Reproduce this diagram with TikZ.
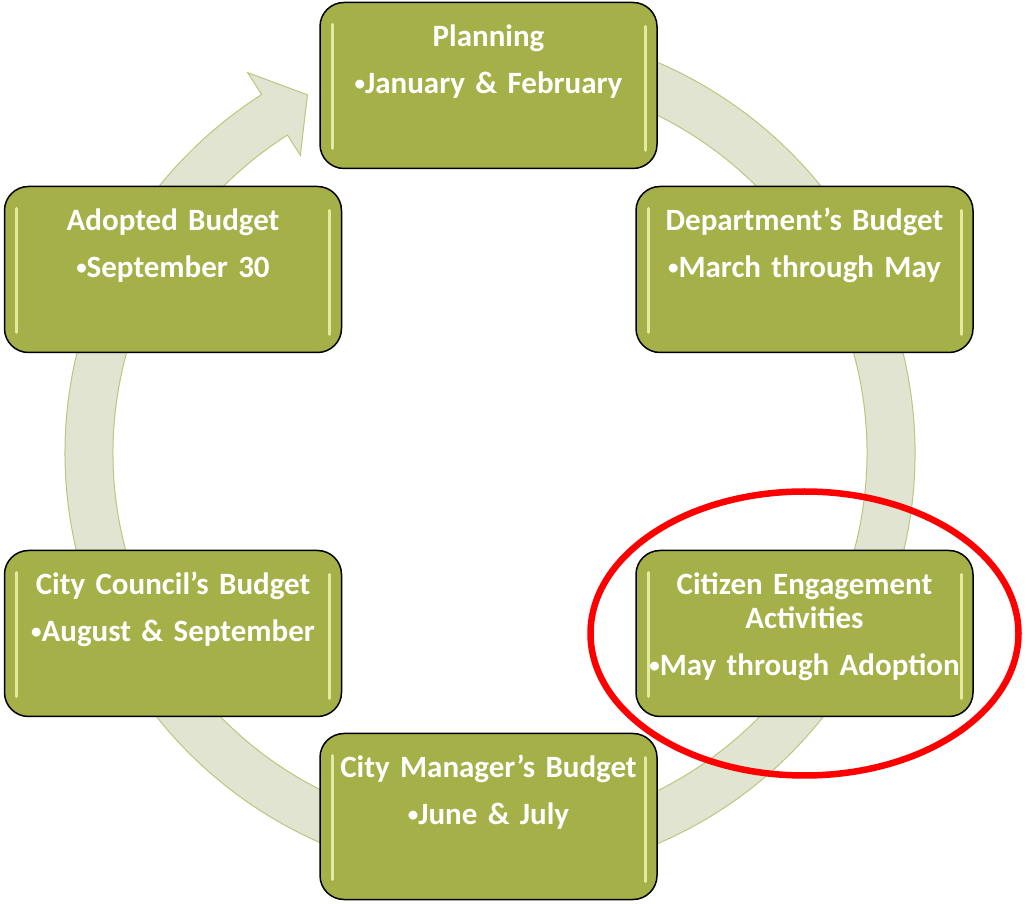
\documentclass[tikz,border=0pt]{standalone}
\usepackage{fontspec}
\setmainfont{Carlito}[WordSpace=0.5]
\usetikzlibrary{positioning}

\definecolor{stagegreen}{RGB}{166,176,72}
\definecolor{stageshine}{RGB}{240,245,175}
\definecolor{ringfill}{RGB}{224,228,208}
\definecolor{ringedge}{RGB}{188,198,126}

% small bullet in front of the dates
\newcommand{\datemark}{\raisebox{2.5pt}{\fontsize{21}{21}\selectfont\textbullet}}

\tikzset{
  stage/.style={draw=black, line width=1.5pt, fill=stagegreen,
    rounded corners=24pt, inner sep=0pt, minimum width=337pt,
    text height=44pt, text depth=122pt, text width=330pt, align=center,
    text=white, font=\bfseries\fontsize{31}{34}\selectfont,
    path picture={
      \draw[stageshine, line width=3pt, line cap=round, opacity=.85]
        ([xshift=12pt,yshift=-22pt]path picture bounding box.north west)
        -- ([xshift=12pt,yshift=20pt]path picture bounding box.south west);
      \draw[stageshine, line width=3pt, line cap=round, opacity=.85]
        ([xshift=-12pt,yshift=-24pt]path picture bounding box.north east)
        -- ([xshift=-12pt,yshift=18pt]path picture bounding box.south east);
    }},
  cyclearrow/.style={fill=ringfill, draw=ringedge, line width=1pt},
  highlight/.style={draw=red, line width=6.5pt}
}

\begin{document}
\begin{tikzpicture}[x=1pt,y=1pt]
  \useasboundingbox (0,0) rectangle (1026,903);

  % Coordinates
  \coordinate (ring) at (490,450);
  \coordinate (plan) at (488.5,817.5);
  \coordinate (dept) at (804.5,633.5);
  \coordinate (citz) at (804.5,269.5);
  \coordinate (mgr) at (488.5,86.5);
  \coordinate (cncl) at (173,269.5);
  \coordinate (adpt) at (173,633.5);

  % Cycle arrow, runs clockwise behind the boxes
  \begin{scope}[shift={(ring)}]
    \draw[cyclearrow] (100:425) arc[start angle=100,end angle=-237.5,radius=425pt]
      -- (-237.5:451) -- (-243:402) -- (-237.5:353)
      -- (-237.5:377) arc[start angle=-237.5,end angle=100,radius=377pt] -- cycle;
  \end{scope}

  % Stages
  \node[stage] (planning) at (plan)
    {Planning\\[13pt]\datemark January \& February};
  \node[stage] (department) at (dept)
    {Department’s Budget\\[13pt]\datemark March through May};
  \node[stage] (citizen) at (citz)
    {Citizen Engagement\\Activities\\[13pt]\datemark May through Adoption};
  \node[stage] (manager) at (mgr)
    {City Manager’s Budget\\[13pt]\datemark June \& July};
  \node[stage] (council) at (cncl)
    {City Council’s Budget\\[13pt]\datemark August \& September};
  \node[stage] (adopted) at (adpt)
    {Adopted Budget\\[13pt]\datemark September 30};

  % Red ring round the citizen stage
  \draw[highlight] (citizen) ellipse[x radius=214pt, y radius=142pt];

\end{tikzpicture}
\end{document}
